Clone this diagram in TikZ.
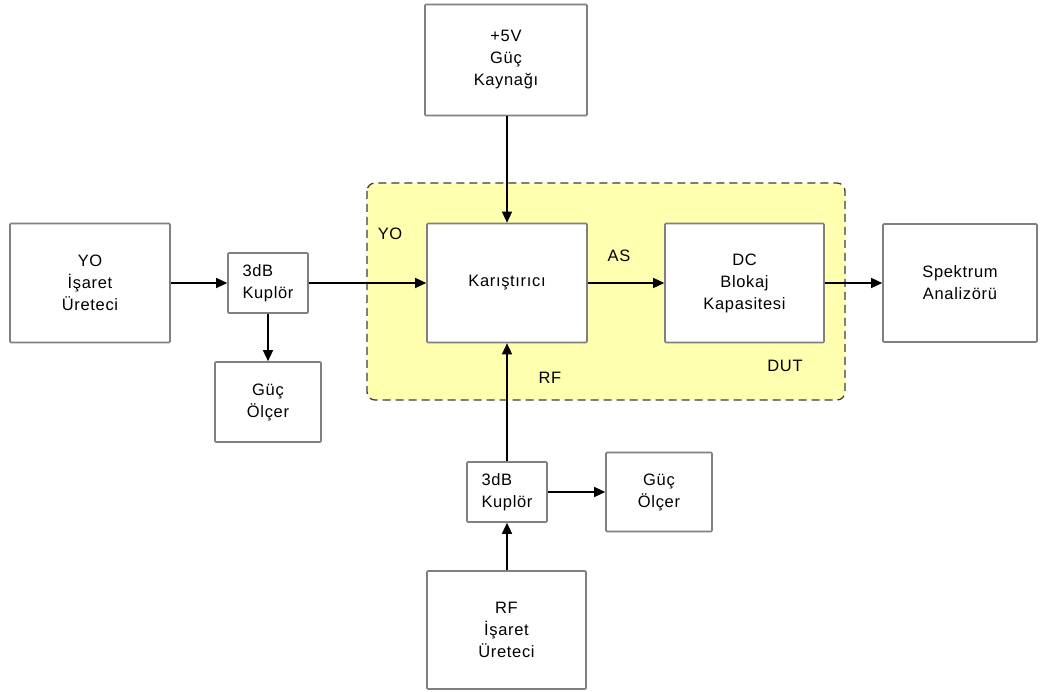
\documentclass[tikz,border=0pt]{standalone}
\usepackage{fontspec}
\setmainfont{Liberation Sans}[LetterSpace=4]
\usetikzlibrary{arrows.meta}
\definecolor{boxgray}{RGB}{128,128,128}
\definecolor{dutfill}{RGB}{255,255,176}
\definecolor{dutline}{RGB}{60,60,60}
\begin{document}
\begin{tikzpicture}[x=1pt,y=-1pt,
  blk/.style={draw=boxgray, line width=1.6pt, fill=white, align=center, inner sep=0pt,
    rounded corners=1pt, font=\fontsize{16.5}{22}\selectfont},
  arr/.style={-{Triangle[length=11pt,width=10pt]}, line width=1.3pt},
  lbl/.style={font=\fontsize{16.5}{22}\selectfont, inner sep=0pt},
  dut/.style={draw=dutline, fill=dutfill, line width=1.3pt, rounded corners=8pt,
    dash pattern=on 8pt off 5pt}
]
\useasboundingbox (0,0) rectangle (1041,692);
\fill[white] (0,0) rectangle (1041,692);

% DUT region
\draw[dut] (367,183) rectangle (845,400);

% boxes
\node[blk, minimum width=160pt, minimum height=119pt] (yo) at (90,283) {YO\\İşaret\\Üreteci};
\node[blk, minimum width=80pt, minimum height=60pt, align=left] (k1) at (268,283) {3dB\\Kuplör};
\node[blk, minimum width=106pt, minimum height=80pt] (g1) at (268,402) {Güç\\Ölçer};
\node[blk, minimum width=162pt, minimum height=111pt] (p5) at (506,60) {+5V\\Güç\\Kaynağı};
\node[blk, minimum width=160pt, minimum height=119pt] (mix) at (507,283) {Karıştırıcı};
\node[blk, minimum width=159pt, minimum height=119pt] (dc) at (744.5,283) {DC\\Blokaj\\Kapasitesi};
\node[blk, minimum width=154pt, minimum height=118pt] (sa) at (960,283) {Spektrum\\Analizörü};
\node[blk, minimum width=80pt, minimum height=60pt, align=left] (k2) at (507,492) {3dB\\Kuplör};
\node[blk, minimum width=106pt, minimum height=79pt] (g2) at (659,492) {Güç\\Ölçer};
\node[blk, minimum width=159pt, minimum height=118pt] (rf) at (506.5,630) {RF\\İşaret\\Üreteci};

% labels
\node[lbl] (lyo) at (390,234) {YO};
\node[lbl] (las) at (619,256) {AS};
\node[lbl] (ldut) at (785,366) {DUT};
\node[lbl] (lrf) at (550,378) {RF};

% connectors
\draw[arr] (yo.east) -- (yo.east -| k1.west);
\draw[arr] (k1.east) -- (k1.east -| mix.west);
\draw[arr] (k1.south) -- (k1.south |- g1.north);
\draw[arr] (mix.north |- p5.south) -- (mix.north);
\draw[arr] (k2.north) -- (k2.north |- mix.south);
\draw[arr] (rf.north -| k2.south) -- (k2.south);
\draw[arr] (k2.east) -- (k2.east -| g2.west);
\draw[arr] (mix.east) -- (dc.west);
\draw[arr] (dc.east) -- (dc.east -| sa.west);
\end{tikzpicture}
\end{document}
